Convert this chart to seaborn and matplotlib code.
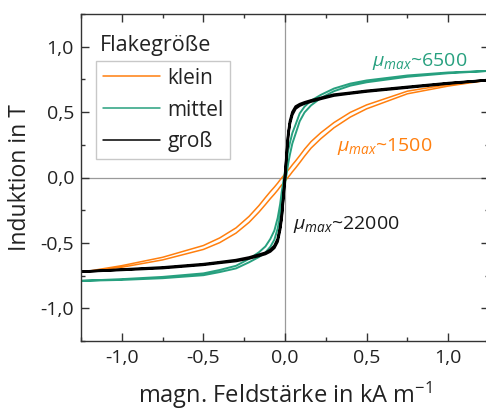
import numpy as np
import pandas as pd
import matplotlib
matplotlib.use("Agg")
import matplotlib.pyplot as plt
from matplotlib.ticker import FuncFormatter, MultipleLocator
import seaborn as sns

# ---------------- data ----------------
H_grid = [-1.25, -1.0, -0.75, -0.5, -0.4, -0.3, -0.22, -0.16, -0.12, -0.09, -0.065,
          -0.045, -0.03, -0.02, -0.01, 0.0, 0.01, 0.02, 0.03, 0.045, 0.065, 0.09,
          0.12, 0.16, 0.22, 0.3, 0.4, 0.5, 0.75, 1.0, 1.25]

# klein (orange) : descending / ascending branch
klein_desc = [-0.725, -0.674, -0.61, -0.52, -0.462, -0.385, -0.297, -0.215, -0.153, -0.108,
              -0.073, -0.043, -0.018, -0.003, 0.012, 0.027, 0.042, 0.057, 0.072, 0.097,
              0.127, 0.167, 0.217, 0.275, 0.343, 0.42, 0.498, 0.555, 0.66, 0.711, 0.745]
klein_asc = [-0.725, -0.686, -0.63, -0.55, -0.498, -0.425, -0.343, -0.265, -0.207, -0.162,
             -0.127, -0.097, -0.072, -0.057, -0.042, -0.027, -0.012, 0.003, 0.018, 0.043,
             0.073, 0.113, 0.163, 0.225, 0.297, 0.38, 0.462, 0.525, 0.64, 0.699, 0.745]

# mittel (green)
mittel_desc = [-0.79, -0.777, -0.76, -0.733, -0.707, -0.675, -0.622, -0.572, -0.527, -0.47,
               -0.405, -0.31, -0.205, -0.11, -0.03, 0.05, 0.13, 0.21, 0.265, 0.34,
               0.405, 0.49, 0.542, 0.588, 0.632, 0.68, 0.718, 0.742, 0.78, 0.803, 0.815]
mittel_asc = [-0.79, -0.783, -0.77, -0.747, -0.723, -0.695, -0.648, -0.608, -0.573, -0.53,
              -0.475, -0.39, -0.295, -0.21, -0.13, -0.05, 0.03, 0.11, 0.175, 0.26,
              0.335, 0.43, 0.498, 0.552, 0.608, 0.66, 0.702, 0.728, 0.77, 0.797, 0.815]

# groß (black)
gross_desc = [-0.72, -0.703, -0.687, -0.662, -0.647, -0.631, -0.611, -0.59, -0.575, -0.554,
              -0.522, -0.47, -0.38, -0.29, -0.14, 0.01, 0.19, 0.34, 0.43, 0.50,
              0.543, 0.561, 0.575, 0.59, 0.609, 0.634, 0.648, 0.663, 0.693, 0.722, 0.745]
gross_asc = [-0.72, -0.707, -0.693, -0.668, -0.653, -0.639, -0.619, -0.60, -0.585, -0.566,
             -0.538, -0.49, -0.40, -0.31, -0.16, -0.01, 0.17, 0.32, 0.41, 0.48,
             0.527, 0.549, 0.565, 0.58, 0.601, 0.626, 0.642, 0.657, 0.687, 0.718, 0.745]

series_names = ["klein", "mittel", "groß"]
annotations = ["$\\mu_{max}$~1500", "$\\mu_{max}$~6500", "$\\mu_{max}$~22000"]
x_ticks = [-1.0, -0.5, 0.0, 0.5, 1.0]
y_ticks = [-1.0, -0.5, 0.0, 0.5, 1.0]

# ---------------- build table ----------------
branches = {"klein": (klein_desc, klein_asc),
            "mittel": (mittel_desc, mittel_asc),
            "groß": (gross_desc, gross_asc)}
rows = []
for name in series_names:
    desc, asc = branches[name]
    order = 0
    for h, b in zip(H_grid[::-1], desc[::-1]):
        rows.append((name, order, h, b)); order += 1
    for h, b in zip(H_grid, asc):
        rows.append((name, order, h, b)); order += 1
df = pd.DataFrame(rows, columns=["Flakegröße", "order", "H", "B"])

# ---------------- style ----------------
sns.set_theme(style="ticks")
plt.rcParams["font.family"] = ["Open Sans", "DejaVu Sans"]
plt.rcParams["mathtext.fontset"] = "custom"
plt.rcParams["mathtext.rm"] = "Open Sans"
plt.rcParams["mathtext.it"] = "Open Sans:italic"
plt.rcParams["mathtext.bf"] = "Open Sans:bold"

colors = {"klein": "#FF7F0E", "mittel": "#27A07F", "groß": "#000000"}
widths = {"klein": 1.1, "mittel": 1.4, "groß": 1.8}
text_colors = {"klein": "#FF7F0E", "mittel": "#27A07F", "groß": "#1a1a1a"}

fig = plt.figure(figsize=(4.86, 4.12), dpi=100)
ax = fig.add_axes([81 / 486, (412 - 341) / 412, 408 / 486, 327 / 412])

ax.axhline(0, color="#9a9a9a", lw=0.9, zorder=0)
ax.axvline(0, color="#9a9a9a", lw=0.9, zorder=0)

for name in series_names:
    sub = df[df["Flakegröße"] == name]
    sns.lineplot(data=sub, x="H", y="B", sort=False, estimator=None, ax=ax,
                 color=colors[name], lw=widths[name], label=name)

ax.set_xlim(-1.25, 1.25)
ax.set_ylim(-1.25, 1.25)
ax.set_xticks(x_ticks)
ax.set_yticks(y_ticks)
ax.xaxis.set_minor_locator(MultipleLocator(0.25))
ax.yaxis.set_minor_locator(MultipleLocator(0.25))
fmt = FuncFormatter(lambda v, p: f"{v:.1f}".replace(".", ","))
ax.xaxis.set_major_formatter(fmt)
ax.yaxis.set_major_formatter(fmt)
ax.tick_params(which="both", direction="in", top=True, right=True,
               color="#333333", labelsize=14, labelcolor="#222222")
ax.tick_params(which="major", length=5.5, width=1.0)
ax.tick_params(which="minor", length=3, width=1.0)
ax.tick_params(axis="x", pad=6)
ax.tick_params(axis="y", pad=5)
for s in ax.spines.values():
    s.set_color("#333333")
    s.set_linewidth(1.0)

ax.set_xlabel("magn. Feldstärke in kA m$^{-1}$", fontsize=17, color="#222222", labelpad=9)
ax.set_ylabel("Induktion in T", fontsize=16.5, color="#222222", labelpad=6)

# annotations
ann_pos = {"klein": (0.32, 0.237), "mittel": (0.534, 0.885), "groß": (0.049, -0.36)}
for name, txt in zip(series_names, annotations):
    x, y = ann_pos[name]
    ax.text(x, y, txt, color=text_colors[name], fontsize=14, ha="left", va="center")

# legend with title above the frame
ax.text(-1.135, 1.008, "Flakegröße", fontsize=15.5, color="#222222", ha="left", va="center")
leg = ax.legend(loc="upper left", bbox_to_anchor=(0.037, 0.856), borderaxespad=0,
                fontsize=15, frameon=True, fancybox=False, handlelength=2.75,
                handletextpad=0.35, labelspacing=0.52, borderpad=0.32)
leg.get_frame().set_edgecolor("#bbbbbb")
leg.get_frame().set_linewidth(1.0)
for line in leg.get_lines():
    line.set_linewidth(1.1)
for t in leg.get_texts():
    t.set_color("#222222")

fig.savefig("out.png", dpi=100)
